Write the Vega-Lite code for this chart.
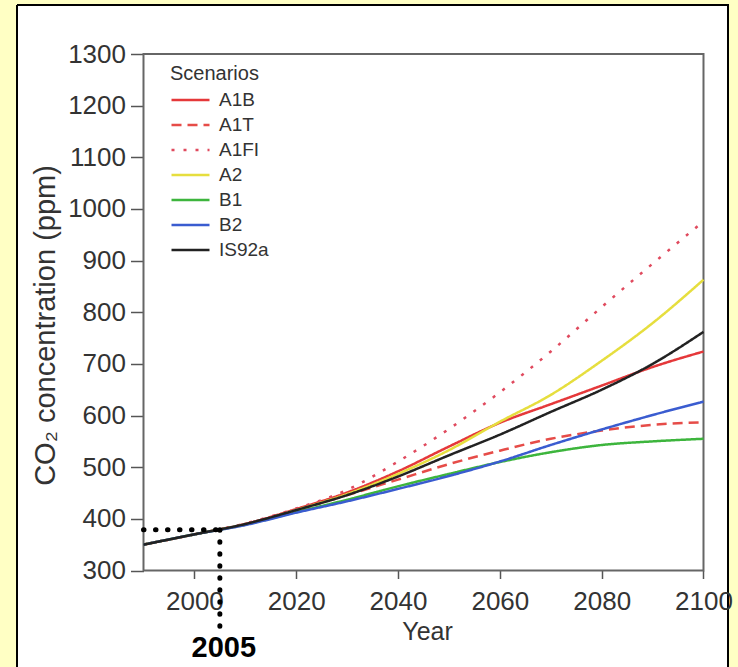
{
  "$schema": "https://vega.github.io/schema/vega-lite/v6.json",
  "background": "#FFFFC4",
  "autosize": {"type": "none"},
  "padding": {"left": 17, "top": 5, "right": 10, "bottom": 0},
  "width": 711,
  "height": 662,
  "config": {
    "font": "Liberation Sans",
    "view": {"fill": "white", "stroke": "black", "strokeWidth": 2, "strokeDash": [1373, 711, 662, 0]},
    "axis": {
      "domain": false,
      "grid": false,
      "labelFont": "Liberation Sans",
      "titleFont": "Liberation Sans",
      "labelColor": "#333333",
      "titleColor": "#333333",
      "tickColor": "#555555",
      "tickWidth": 1.5,
      "labelFlush": false,
      "labelOverlap": false,
      "titleFontWeight": "normal"
    }
  },
  "datasets": {
    "co2": [
      {"year": 1990, "scenario": "A1B", "co2": 350}, {"year": 2000, "scenario": "A1B", "co2": 370}, {"year": 2010, "scenario": "A1B", "co2": 390}, {"year": 2020, "scenario": "A1B", "co2": 419}, {"year": 2030, "scenario": "A1B", "co2": 451}, {"year": 2040, "scenario": "A1B", "co2": 492}, {"year": 2050, "scenario": "A1B", "co2": 540}, {"year": 2060, "scenario": "A1B", "co2": 586}, {"year": 2070, "scenario": "A1B", "co2": 622}, {"year": 2080, "scenario": "A1B", "co2": 658}, {"year": 2090, "scenario": "A1B", "co2": 694}, {"year": 2100, "scenario": "A1B", "co2": 724},
      {"year": 1990, "scenario": "A1T", "co2": 350}, {"year": 2000, "scenario": "A1T", "co2": 370}, {"year": 2010, "scenario": "A1T", "co2": 390}, {"year": 2020, "scenario": "A1T", "co2": 417}, {"year": 2030, "scenario": "A1T", "co2": 446}, {"year": 2040, "scenario": "A1T", "co2": 476}, {"year": 2050, "scenario": "A1T", "co2": 506}, {"year": 2060, "scenario": "A1T", "co2": 532}, {"year": 2070, "scenario": "A1T", "co2": 555}, {"year": 2080, "scenario": "A1T", "co2": 571}, {"year": 2090, "scenario": "A1T", "co2": 582}, {"year": 2100, "scenario": "A1T", "co2": 587},
      {"year": 1990, "scenario": "A1FI", "co2": 350}, {"year": 2000, "scenario": "A1FI", "co2": 370}, {"year": 2010, "scenario": "A1FI", "co2": 391}, {"year": 2020, "scenario": "A1FI", "co2": 420}, {"year": 2030, "scenario": "A1FI", "co2": 456}, {"year": 2040, "scenario": "A1FI", "co2": 511}, {"year": 2050, "scenario": "A1FI", "co2": 574}, {"year": 2060, "scenario": "A1FI", "co2": 645}, {"year": 2070, "scenario": "A1FI", "co2": 724}, {"year": 2080, "scenario": "A1FI", "co2": 810}, {"year": 2090, "scenario": "A1FI", "co2": 894}, {"year": 2100, "scenario": "A1FI", "co2": 976},
      {"year": 1990, "scenario": "A2", "co2": 350}, {"year": 2000, "scenario": "A2", "co2": 370}, {"year": 2010, "scenario": "A2", "co2": 389}, {"year": 2020, "scenario": "A2", "co2": 417}, {"year": 2030, "scenario": "A2", "co2": 448}, {"year": 2040, "scenario": "A2", "co2": 487}, {"year": 2050, "scenario": "A2", "co2": 533}, {"year": 2060, "scenario": "A2", "co2": 588}, {"year": 2070, "scenario": "A2", "co2": 640}, {"year": 2080, "scenario": "A2", "co2": 706}, {"year": 2090, "scenario": "A2", "co2": 779}, {"year": 2100, "scenario": "A2", "co2": 863},
      {"year": 1990, "scenario": "B1", "co2": 350}, {"year": 2000, "scenario": "B1", "co2": 370}, {"year": 2010, "scenario": "B1", "co2": 389}, {"year": 2020, "scenario": "B1", "co2": 413}, {"year": 2030, "scenario": "B1", "co2": 437}, {"year": 2040, "scenario": "B1", "co2": 463}, {"year": 2050, "scenario": "B1", "co2": 487}, {"year": 2060, "scenario": "B1", "co2": 510}, {"year": 2070, "scenario": "B1", "co2": 529}, {"year": 2080, "scenario": "B1", "co2": 543}, {"year": 2090, "scenario": "B1", "co2": 550}, {"year": 2100, "scenario": "B1", "co2": 555},
      {"year": 1990, "scenario": "B2", "co2": 350}, {"year": 2000, "scenario": "B2", "co2": 370}, {"year": 2010, "scenario": "B2", "co2": 388}, {"year": 2020, "scenario": "B2", "co2": 412}, {"year": 2030, "scenario": "B2", "co2": 434}, {"year": 2040, "scenario": "B2", "co2": 458}, {"year": 2050, "scenario": "B2", "co2": 483}, {"year": 2060, "scenario": "B2", "co2": 511}, {"year": 2070, "scenario": "B2", "co2": 543}, {"year": 2080, "scenario": "B2", "co2": 573}, {"year": 2090, "scenario": "B2", "co2": 601}, {"year": 2100, "scenario": "B2", "co2": 627},
      {"year": 1990, "scenario": "IS92a", "co2": 350}, {"year": 2000, "scenario": "IS92a", "co2": 370}, {"year": 2010, "scenario": "IS92a", "co2": 390}, {"year": 2020, "scenario": "IS92a", "co2": 417}, {"year": 2030, "scenario": "IS92a", "co2": 446}, {"year": 2040, "scenario": "IS92a", "co2": 482}, {"year": 2050, "scenario": "IS92a", "co2": 523}, {"year": 2060, "scenario": "IS92a", "co2": 563}, {"year": 2070, "scenario": "IS92a", "co2": 607}, {"year": 2080, "scenario": "IS92a", "co2": 650}, {"year": 2090, "scenario": "IS92a", "co2": 700}, {"year": 2100, "scenario": "IS92a", "co2": 762}
    ],
    "frame": [{"year": 1990, "yearEnd": 2100, "co2": 300, "co2End": 1300}],
    "guides2005": [
      {"year": 1990, "yearEnd": 2005, "co2": 379, "co2End": 379},
      {"year": 2005, "yearEnd": 2005, "co2": 379, "co2End": 192}
    ],
    "yearLabel": [{"label": "2005", "year": 2005, "co2": 133}]
  },
  "encoding": {
    "x": {
      "field": "year", "type": "quantitative",
      "scale": {"domain": [1965.152, 2104.813], "nice": false, "zero": false},
      "axis": {
        "title": "Year", "values": [2000, 2020, 2040, 2060, 2080, 2100],
        "format": "d", "offset": -96.5, "tickSize": 8, "labelPadding": 10,
        "labelFontSize": 26, "titleFontSize": 25,
        "titleX": 410, "titleY": 69, "titleBaseline": "alphabetic"
      }
    },
    "y": {
      "field": "co2", "type": "quantitative",
      "scale": {"domain": [113.17, 1394.87], "nice": false, "zero": false},
      "axis": {
        "title": "CO₂ concentration (ppm)",
        "values": [300, 400, 500, 600, 700, 800, 900, 1000, 1100, 1200, 1300],
        "format": "d", "offset": -126.5, "tickSize": 13, "labelPadding": 5,
        "labelFontSize": 26, "titleFontSize": 29,
        "titleX": -89, "titleY": 320, "titleBaseline": "alphabetic", "titleAngle": -90
      }
    }
  },
  "layer": [
    {
      "data": {"name": "frame"},
      "mark": {"type": "rect", "fill": null, "stroke": "#666666", "strokeWidth": 2},
      "encoding": {
        "x2": {"field": "yearEnd"},
        "y2": {"field": "co2End"}
      }
    },
    {
      "data": {"name": "co2"},
      "mark": {"type": "line", "strokeWidth": 2.5, "interpolate": "monotone"},
      "encoding": {
        "color": {
          "field": "scenario", "type": "nominal",
          "scale": {
            "domain": ["A1B", "A1T", "A1FI", "A2", "B1", "B2", "IS92a"],
            "range": ["#e5383a", "#e64c48", "#e04a5e", "#e6de3e", "#3db53d", "#3a5cd0", "#222222"]
          },
          "legend": {
            "title": "Scenarios", "orient": "none", "legendX": 153, "legendY": 59, "padding": 0,
            "symbolType": "M-1,0H3", "symbolSize": 361, "symbolStrokeWidth": 2.5,
            "labelOffset": 27, "rowPadding": 4, "titlePadding": 5,
            "titleFontSize": 20, "titleFontWeight": "normal", "titleColor": "#333333", "titleFont": "Liberation Sans",
            "labelFontSize": 19, "labelColor": "#333333", "labelFont": "Liberation Sans"
          }
        },
        "strokeDash": {
          "field": "scenario", "type": "nominal",
          "scale": {
            "domain": ["A1B", "A1T", "A1FI", "A2", "B1", "B2", "IS92a"],
            "range": [[1, 0], [10, 6], [3, 9], [1, 0], [1, 0], [1, 0], [1, 0]]
          },
          "legend": {
            "title": "Scenarios", "orient": "none", "legendX": 153, "legendY": 59, "padding": 0,
            "symbolType": "M-1,0H3", "symbolSize": 361, "symbolStrokeWidth": 2.5,
            "labelOffset": 27, "rowPadding": 4, "titlePadding": 5,
            "titleFontSize": 20, "titleFontWeight": "normal", "titleColor": "#333333", "titleFont": "Liberation Sans",
            "labelFontSize": 19, "labelColor": "#333333", "labelFont": "Liberation Sans"
          }
        }
      }
    },
    {
      "data": {"name": "guides2005"},
      "mark": {"type": "rule", "color": "black", "strokeWidth": 5, "strokeCap": "round", "strokeDash": [0.5, 11.5]},
      "encoding": {
        "x2": {"field": "yearEnd"},
        "y2": {"field": "co2End"}
      }
    },
    {
      "data": {"name": "yearLabel"},
      "mark": {"type": "text", "font": "Liberation Sans", "fontWeight": "bold", "fontSize": 29, "color": "black", "baseline": "alphabetic", "align": "center", "dx": 4},
      "encoding": {
        "text": {"field": "label"}
      }
    }
  ]
}
